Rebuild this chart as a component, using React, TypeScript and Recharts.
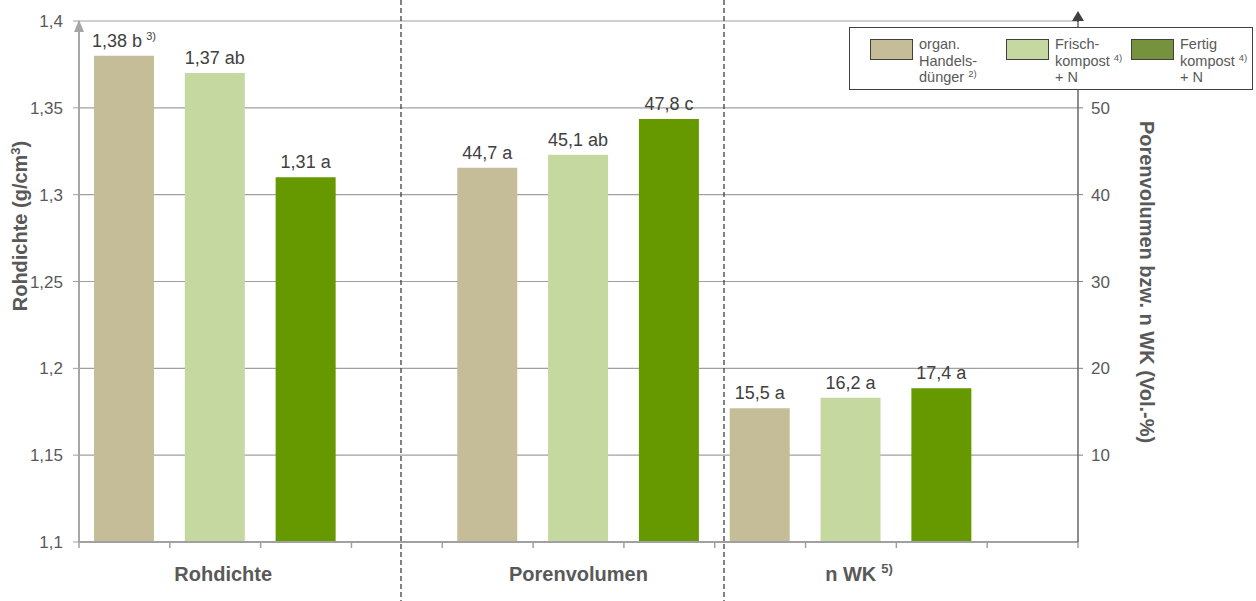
import React from "react";
import {
  BarChart, Bar, XAxis, YAxis, CartesianGrid, Legend, LabelList, Cell,
} from "recharts";

// 11 slots on the category axis: 3 bars per group, one empty slot between groups
const slotKeys = ["s1", "s2", "s3", "s4", "s5", "s6", "s7", "s8", "s9", "s10", "s11"];
const groupNames = ["", "Rohdichte", "", "", "", "Porenvolumen", "", "", "n WK", "", ""];
const groupSup = ["", "", "", "", "", "", "", "", "5)", "", ""];

// left axis (g/cm³)
const rohdichte = [1.38, 1.37, 1.31, null, null, null, null, null, null, null, null];
// right axis (Vol.-%) – bar heights as drawn
const volumen = [null, null, null, null, 43.1, 44.6, 48.7, 15.4, 16.6, 17.7, null];

const valueLabels = ["1,38 b", "1,37 ab", "1,31 a", "", "44,7 a", "45,1 ab", "47,8 c", "15,5 a", "16,2 a", "17,4 a", ""];
const valueSup = ["3)", "", "", "", "", "", "", "", "", "", ""];

const slotColors = ["#c5bd98", "#c5d8a0", "#669900", "#ffffff", "#c5bd98", "#c5d8a0", "#669900", "#c5bd98", "#c5d8a0", "#669900", "#ffffff"];

const leftTicks = [1.1, 1.15, 1.2, 1.25, 1.3, 1.35, 1.4];
const rightTicks = [10, 20, 30, 40, 50];

const legendItems = [
  { lines: ["organ.", "Handels-", "dünger"], sup: "2)", supLine: 2, color: "#c5bd98", width: 136 },
  { lines: ["Frisch-", "kompost", "+ N"], sup: "4)", supLine: 1, color: "#c5d8a0", width: 125 },
  { lines: ["Fertig", "kompost", "+ N"], sup: "4)", supLine: 1, color: "#76923c", width: 110 },
];

const data = slotKeys.map((slot, i) => ({
  slot,
  rd: rohdichte[i],
  pv: volumen[i],
  rdLabel: rohdichte[i] != null ? valueLabels[i] : null,
  pvLabel: volumen[i] != null ? valueLabels[i] : null,
}));

const FONT = "'Liberation Sans', Arial, sans-serif";
const TEXT = "#595959";
const AXIS = "#a0a0a0";

const comma = (v: number) => String(v).replace(".", ",");

const renderValueLabel = (props: any) => {
  const { x, y, width, value } = props;
  if (!value) return null;
  const sup = valueSup[valueLabels.indexOf(value)];
  return (
    <text x={x + width / 2} y={y - 9} textAnchor="middle" fontSize={18} fill="#404040" fontFamily={FONT}>
      {value}
      {sup && <tspan fontSize={11} dx={4} dy={-7}>{sup}</tspan>}
    </text>
  );
};

// category tick: boundary tick marks between slots + group name under the middle slot
const GroupTick = (props: any) => {
  const { x, y, payload } = props;
  const i = slotKeys.indexOf(payload.value);
  const half = payload.offset || (1078 - 79) / slotKeys.length / 2;
  const name = groupNames[i];
  return (
    <g>
      <line x1={x - half} x2={x - half} y1={y} y2={y + 6} stroke={AXIS} strokeWidth={1.5} />
      {i === slotKeys.length - 1 && (
        <line x1={x + half} x2={x + half} y1={y} y2={y + 6} stroke={AXIS} strokeWidth={1.5} />
      )}
      {name && (
        <text x={x + (i === 1 ? 8 : i === 8 ? 8 : 0)} y={y + 39} textAnchor="middle" fontSize={20} fontWeight="bold" fill={TEXT} fontFamily={FONT}>
          {name}
          {groupSup[i] && <tspan fontSize={13} dx={5} dy={-8}>{groupSup[i]}</tspan>}
        </text>
      )}
    </g>
  );
};

const LegendBox = () => (
  <div
    style={{
      boxSizing: "border-box", width: 404, height: 63, border: "1px solid #404040",
      background: "#fff", display: "flex", paddingLeft: 20, paddingTop: 8, fontFamily: FONT,
    }}
  >
    {legendItems.map((it, k) => (
      <div key={k} style={{ display: "flex", width: it.width }}>
        <div style={{ width: 41, height: 19, marginTop: 3, background: it.color, border: "1px solid #404040", flexShrink: 0 }} />
        <div style={{ marginLeft: 6, fontSize: 14.5, lineHeight: "16.5px", color: TEXT, whiteSpace: "nowrap" }}>
          {it.lines.map((l, j) => (
            <div key={j} style={{ height: 16.5 }}>
              {l}
              {j === it.supLine && (
                <span style={{ fontSize: 9.5, marginLeft: 4, position: "relative", top: -5 }}>{it.sup}</span>
              )}
            </div>
          ))}
        </div>
      </div>
    ))}
  </div>
);

export default function App() {
  return (
    <div style={{ position: "absolute", left: 0, top: 0, width: 1256, height: 601, background: "#fff", fontFamily: FONT }}>
      <BarChart
        width={1256}
        height={601}
        data={data}
        margin={{ top: 21, right: 0, bottom: 0, left: 0 }}
        barSize={60}
        barGap={-60}
        style={{ fontFamily: FONT }}
      >
        <CartesianGrid yAxisId="left" vertical={false} stroke={AXIS} strokeWidth={1.2} />
        <XAxis
          dataKey="slot"
          tick={<GroupTick />}
          tickLine={false}
          tickSize={0}
          tickMargin={0}
          interval={0}
          axisLine={{ stroke: AXIS, strokeWidth: 2 }}
          height={59}
        />
        <YAxis
          yAxisId="left"
          width={79}
          domain={[1.1, 1.4]}
          ticks={leftTicks}
          tickFormatter={comma}
          tick={{ fontSize: 17, fill: TEXT, fontFamily: FONT }}
          tickSize={6}
          tickMargin={10}
          tickLine={{ stroke: AXIS }}
          axisLine={{ stroke: "#a6a6a6", strokeWidth: 2 }}
          label={() => (
            <text x={27} y={226} transform="rotate(-90 27 226)" textAnchor="middle" fontSize={20} fontWeight="bold" fill={TEXT} fontFamily={FONT}>
              Rohdichte (g/cm<tspan fontSize={13} dy={-7}>3</tspan><tspan dy={7}>)</tspan>
            </text>
          )}
        />
        <YAxis
          yAxisId="right"
          orientation="right"
          width={178}
          domain={[0, 60]}
          ticks={rightTicks}
          tick={{ fontSize: 17, fill: TEXT, fontFamily: FONT }}
          tickSize={5}
          tickMargin={8}
          tickLine={{ stroke: "#808080" }}
          axisLine={{ stroke: "#404040", strokeWidth: 1.2 }}
          label={() => (
            <text x={1140} y={282} transform="rotate(90 1140 282)" textAnchor="middle" fontSize={20} fontWeight="bold" fill={TEXT} fontFamily={FONT}>
              Porenvolumen bzw. n WK (Vol.-%)
            </text>
          )}
        />
        <Legend
          layout="vertical"
          align="center"
          verticalAlign="middle"
          content={<LegendBox />}
          wrapperStyle={{ left: 849, top: 27, width: 404, height: 63 }}
        />
        <Bar yAxisId="left" dataKey="rd" isAnimationActive={false}>
          {data.map((d, i) => <Cell key={d.slot} fill={slotColors[i]} />)}
          <LabelList dataKey="rdLabel" content={renderValueLabel} />
        </Bar>
        <Bar yAxisId="right" dataKey="pv" isAnimationActive={false}>
          {data.map((d, i) => <Cell key={d.slot} fill={slotColors[i]} />)}
          <LabelList dataKey="pvLabel" content={renderValueLabel} />
        </Bar>
      </BarChart>
      <svg width={1256} height={601} style={{ position: "absolute", left: 0, top: 0, pointerEvents: "none" }}>
        <line x1={401} y1={0} x2={401} y2={601} stroke="#404040" strokeWidth={1.3} strokeDasharray="5 3" />
        <line x1={724} y1={0} x2={724} y2={601} stroke="#404040" strokeWidth={1.3} strokeDasharray="5 3" />
        <polygon points="79,20 74,32 84,32" fill="#a6a6a6" />
        <line x1={1078} y1={14} x2={1078} y2={22} stroke="#404040" strokeWidth={1.2} />
        <polygon points="1078,11 1072,21 1084,21" fill="#404040" />
      </svg>
    </div>
  );
}
